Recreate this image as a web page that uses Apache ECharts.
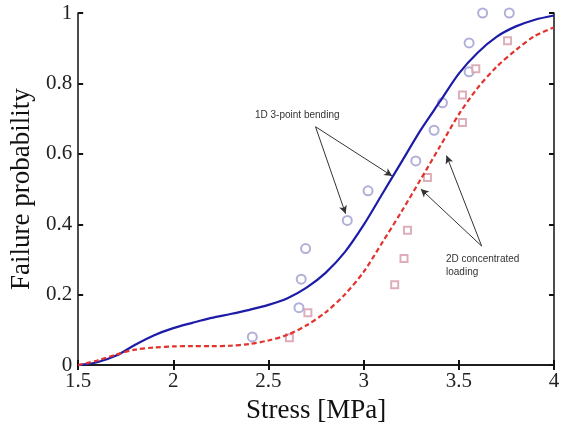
<!DOCTYPE html>
<html>
<head>
<meta charset="utf-8">
<script src="https://cdn.jsdelivr.net/npm/echarts@6/dist/echarts.min.js"></script>
<style>
  html, body { margin: 0; padding: 0; background: #fff; }
  #chart { width: 567px; height: 429px; }
</style>
</head>
<body>
<div id="chart"></div>
<script>
// model curves, read every 0.1 MPa
var stress = [1.5, 1.6, 1.7, 1.8, 1.9, 2.0, 2.1, 2.2, 2.3, 2.4, 2.5, 2.6, 2.7, 2.8,
  2.9, 3.0, 3.1, 3.2, 3.3, 3.4, 3.5, 3.6, 3.7, 3.8, 3.9, 4.0];
var bendingProb = [0, 0.008, 0.027, 0.058, 0.085, 0.105, 0.12, 0.134, 0.145, 0.157,
  0.171, 0.19, 0.22, 0.262, 0.32, 0.398, 0.488, 0.578, 0.668, 0.748, 0.828, 0.888,
  0.933, 0.962, 0.981, 0.993];
var concentratedProb = [0, 0.013, 0.03, 0.044, 0.05, 0.053, 0.054, 0.054, 0.055, 0.06,
  0.07, 0.086, 0.113, 0.15, 0.2, 0.265, 0.35, 0.437, 0.528, 0.62, 0.712, 0.788,
  0.848, 0.895, 0.935, 0.959];
// experimental points
var bendingPoints = [
  [2.415, 0.08], [2.66, 0.163], [2.672, 0.244], [2.695, 0.331], [2.914, 0.411],
  [3.023, 0.495], [3.274, 0.58], [3.37, 0.667], [3.414, 0.745], [3.554, 0.833],
  [3.554, 0.915], [3.625, 1.0], [3.765, 1.0]
];
var concentratedPoints = [
  [2.61, 0.078], [2.707, 0.149], [3.163, 0.228], [3.212, 0.303], [3.23, 0.383],
  [3.335, 0.533], [3.519, 0.689], [3.519, 0.767], [3.589, 0.842], [3.756, 0.921]
];
var xTicks = [1.5, 2, 2.5, 3, 3.5, 4];
var yTicks = [0, 0.2, 0.4, 0.6, 0.8, 1];

function pairs(xs, ys) {
  return xs.map(function (x, i) { return [x, ys[i]]; });
}

var chart = echarts.init(document.getElementById('chart'));
var serif = 'Liberation Serif, Times New Roman, serif';
var arrowLine = { color: '#333', width: 1, type: 'solid' };
var frameTick = { inside: true, length: 5, lineStyle: { color: '#111', width: 2 } };
var frameLine = { lineStyle: { color: '#111', width: 1.5 } };

chart.setOption({
  animation: false,
  grid: { left: 78, right: 13, top: 13, bottom: 61 },
  xAxis: [{
    type: 'value', min: 1.5, max: 4, interval: 0.5,
    name: 'Stress [MPa]', nameLocation: 'middle', nameGap: 29,
    nameTextStyle: { fontFamily: serif, fontSize: 27, color: '#111' },
    axisLine: frameLine, axisTick: frameTick,
    axisLabel: {
      fontFamily: serif, fontSize: 21, color: '#222', margin: 6,
      formatter: function (v) { return xTicks.indexOf(v) >= 0 ? String(v) : ''; }
    },
    splitLine: { show: false }
  }, {
    type: 'value', min: 1.5, max: 4, interval: 0.5, position: 'top',
    axisLine: frameLine, axisTick: frameTick,
    axisLabel: { show: false }, splitLine: { show: false }
  }],
  yAxis: [{
    type: 'value', min: 0, max: 1, interval: 0.2,
    name: 'Failure probability', nameLocation: 'middle', nameGap: 43,
    nameTextStyle: { fontFamily: serif, fontSize: 27, color: '#111' },
    axisLine: frameLine, axisTick: frameTick,
    axisLabel: {
      fontFamily: serif, fontSize: 21, color: '#222', margin: 6,
      formatter: function (v) {
        var t = yTicks.filter(function (k) { return Math.abs(k - v) < 1e-6; });
        return t.length ? String(t[0]) : '';
      }
    },
    splitLine: { show: false }
  }, {
    type: 'value', min: 0, max: 1, interval: 0.2, position: 'right',
    axisLine: frameLine, axisTick: frameTick,
    axisLabel: { show: false }, splitLine: { show: false }
  }],
  series: [{
    name: '1D 3-point bending',
    type: 'line', data: pairs(stress, bendingProb), smooth: 0.3, symbol: 'none',
    lineStyle: { color: '#1c1ca8', width: 2.2 },
    z: 3,
    markLine: {
      silent: true, symbol: ['none', 'arrow'], symbolSize: [6, 8],
      lineStyle: arrowLine,
      label: { show: false },
      data: [
        [{ coord: [2.747, 0.677] }, { coord: [2.905, 0.43] }],
        [{ coord: [2.747, 0.677] }, { coord: [3.15, 0.537] }]
      ]
    }
  }, {
    name: '2D concentrated loading',
    type: 'line', data: pairs(stress, concentratedProb), smooth: 0.3, symbol: 'none',
    lineStyle: { color: '#e2332e', width: 2.2, type: [5, 3] },
    z: 3,
    markLine: {
      silent: true, symbol: ['none', 'arrow'], symbolSize: [6, 8],
      lineStyle: arrowLine,
      label: { show: false },
      data: [
        [{ coord: [3.62, 0.338] }, { coord: [3.30, 0.50] }],
        [{ coord: [3.62, 0.338] }, { coord: [3.435, 0.595] }]
      ]
    }
  }, {
    type: 'scatter', data: bendingPoints, symbol: 'emptyCircle', symbolSize: 9,
    itemStyle: { color: '#9c9cd0', borderWidth: 1 }, z: 2
  }, {
    type: 'scatter', data: concentratedPoints, symbol: 'emptyRect', symbolSize: 7,
    itemStyle: { color: '#d49aa8', borderWidth: 1 }, z: 2
  }],
  graphic: [{
    type: 'text', left: 255, top: 110,
    style: { text: '1D 3-point bending', font: '10px Liberation Sans, Arial, sans-serif', fill: '#333' }
  }, {
    type: 'text', left: 446, top: 253,
    style: { text: '2D concentrated\nloading', font: '10px Liberation Sans, Arial, sans-serif', fill: '#333', lineHeight: 13 }
  }]
});
</script>
</body>
</html>
